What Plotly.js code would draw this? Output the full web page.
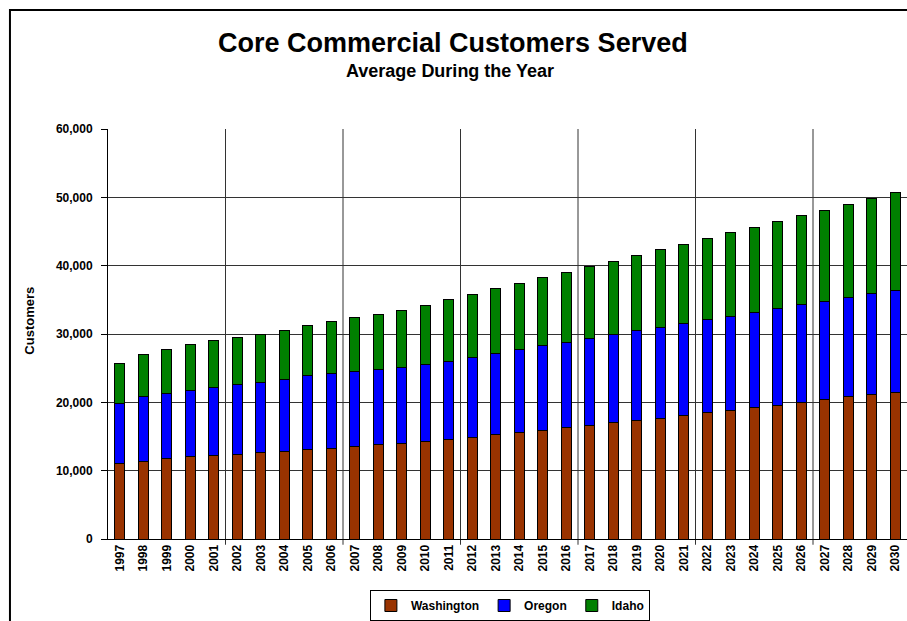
<!DOCTYPE html>
<html>
<head>
<meta charset="utf-8">
<script src="https://cdn.plot.ly/plotly-3.0.1.min.js"></script>
<style>html,body{margin:0;padding:0;background:#fff;}#chart{width:907px;height:621px;}</style>
</head>
<body>
<div id="chart"></div>
<script>
const years = ["1997","1998","1999","2000","2001","2002","2003","2004","2005","2006",
  "2007","2008","2009","2010","2011","2012","2013","2014","2015","2016",
  "2017","2018","2019","2020","2021","2022","2023","2024","2025","2026",
  "2027","2028","2029","2030"];
const washington = [11000,11400,11750,12030,12270,12420,12600,12850,13080,13280,
  13510,13760,13950,14240,14580,14910,15250,15590,15920,16260,
  16650,17030,17370,17700,18090,18480,18810,19200,19580,19970,
  20350,20790,21120,21510];
const oregon = [8900,9390,9530,9710,9960,10140,10350,10440,10780,10870,
  11030,11020,11110,11260,11450,11700,11930,12130,12370,12560,
  12700,12850,13090,13190,13380,13570,13720,13950,14100,14290,
  14440,14520,14770,14910];
const idaho = [5780,6150,6450,6700,6790,6930,6980,7170,7370,7610,
  7840,8130,8430,8610,8950,9240,9490,9710,10010,10200,
  10540,10730,10970,11410,11640,11920,12270,12470,12800,13040,
  13330,13670,13910,14250];
const yTicks = [0,10000,20000,30000,40000,50000,60000];

const line = {color:'#000', width:1};
const traces = [
  {type:'bar', name:'Washington', x:years, y:washington, marker:{color:'#993300', line:line}},
  {type:'bar', name:'Oregon', x:years, y:oregon, marker:{color:'#0000FF', line:line}},
  {type:'bar', name:'Idaho', x:years, y:idaho, marker:{color:'#008000', line:line}}
];

const shapes = [];
for (let i = 5; i < years.length; i += 5) {
  shapes.push({type:'line', xref:'x', yref:'paper', x0:i-0.5, x1:i-0.5, y0:-0.014, y1:1,
    line:{color:'#333', width:1}, layer:'below'});
}
// outer chart frame
shapes.push({type:'rect', xref:'paper', yref:'paper', x0:-0.1227, x1:1.05, y0:-0.25, y1:1.29,
  line:{color:'#000', width:2}, fillcolor:'rgba(0,0,0,0)'});

const fam = 'Arial, "Liberation Sans", sans-serif';
const layout = {
  width:907, height:621,
  margin:{l:108, r:0, t:129, b:77, pad:0},
  paper_bgcolor:'#fff', plot_bgcolor:'#fff',
  barmode:'stack', bargap:0.56,
  showlegend:true,
  legend:{orientation:'h', x:0.503, xanchor:'center', y:-0.125, yanchor:'top',
    bordercolor:'#000', borderwidth:1, font:{family:fam, size:12, color:'#000', weight:'bold'},
    itemwidth:30, traceorder:'normal'},
  font:{family:fam, color:'#000'},
  xaxis:{type:'category', showgrid:false, showline:true, linecolor:'#000', linewidth:1,
    tickangle:-90, ticks:'', tickfont:{family:fam, size:12, color:'#000', weight:'bold'},
    range:[-0.5, years.length-0.5]},
  yaxis:{range:[0,60000], tickvals:yTicks, tickformat:',d', showgrid:true, gridcolor:'#333', gridwidth:1,
    showline:true, linecolor:'#000', linewidth:1, ticks:'outside', ticklen:6, tickcolor:'#000',
    ticklabelstandoff:6,
    tickfont:{family:fam, size:12, color:'#000', weight:'bold'}, zeroline:false},
  shapes:shapes,
  annotations:[
    {text:'<b>Core Commercial Customers Served</b>', xref:'paper', yref:'paper',
      x:(453-108)/799, y:(544-42)/415, xanchor:'center', yanchor:'middle', showarrow:false,
      font:{family:fam, size:27, color:'#000'}},
    {text:'<b>Average During the Year</b>', xref:'paper', yref:'paper',
      x:(450-108)/799, y:(544-70)/415, xanchor:'center', yanchor:'middle', showarrow:false,
      font:{family:fam, size:18, color:'#000'}},
    {text:'<b>Customers</b>', xref:'paper', yref:'paper', textangle:-90,
      x:(30-108)/799, y:(544-323)/415, xanchor:'center', yanchor:'middle', showarrow:false,
      font:{family:fam, size:13, color:'#000'}}
  ]
};
Plotly.newPlot('chart', traces, layout, {displayModeBar:false, staticPlot:true});
</script>
</body>
</html>
